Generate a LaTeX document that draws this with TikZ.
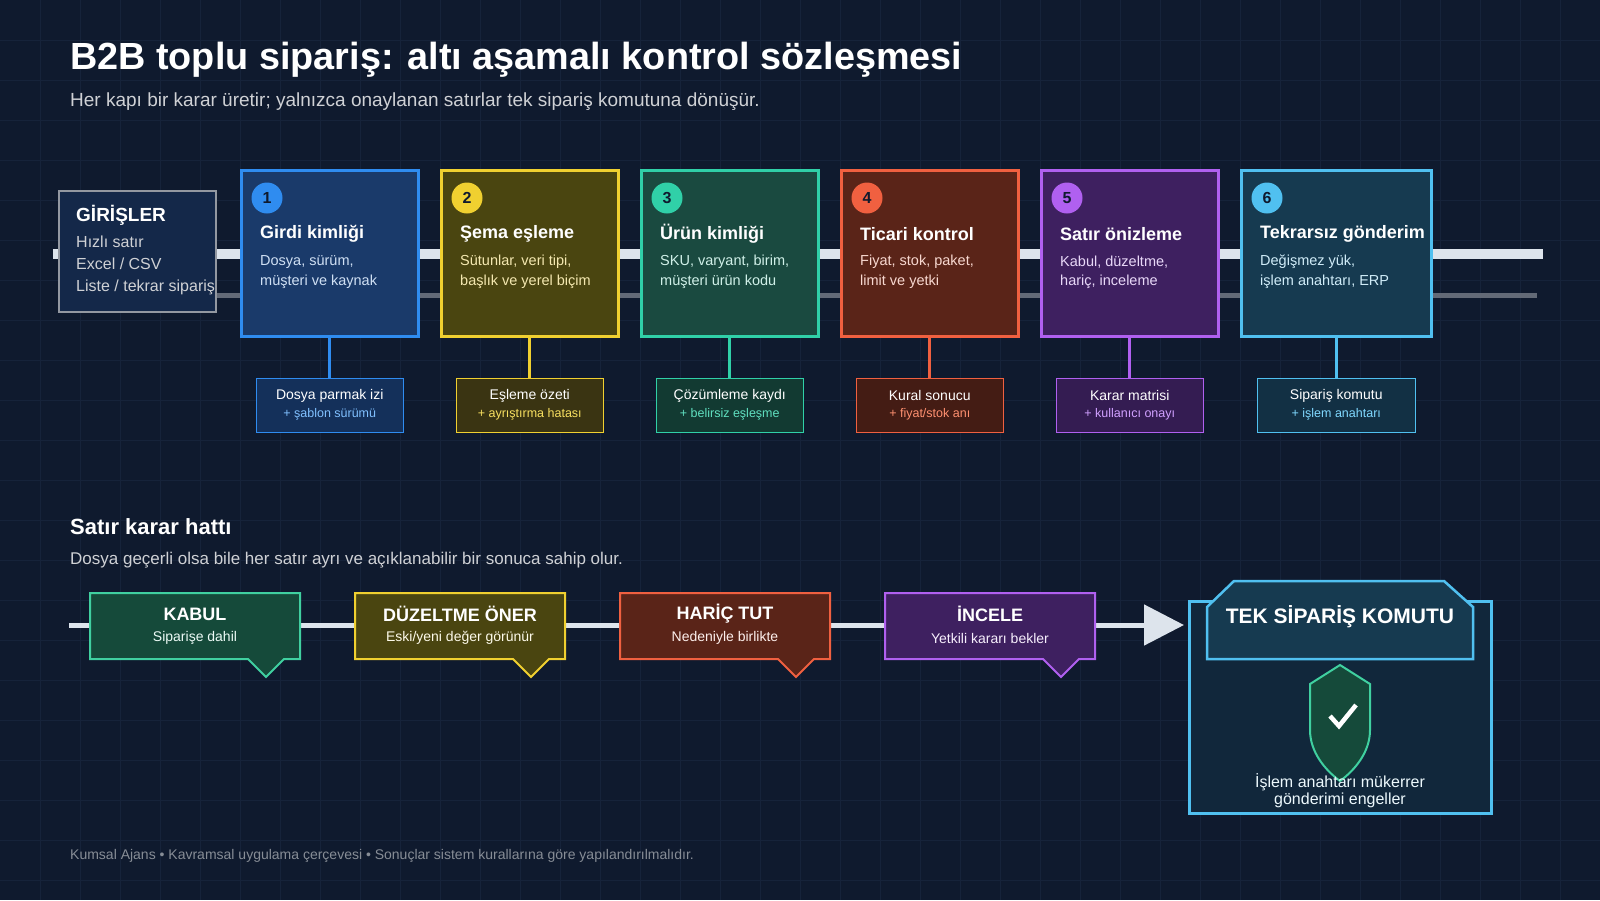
\documentclass[tikz,border=0pt]{standalone}
\usepackage{fontspec}
\setmainfont{Liberation Sans}
\usetikzlibrary{arrows.meta}
\definecolor{bg}{HTML}{0F1A2E}
\definecolor{grid}{HTML}{16233A}
\definecolor{rail}{HTML}{DDE4EC}
\definecolor{c1}{HTML}{2F8CF0}\definecolor{f1}{HTML}{1A3A6A}\definecolor{g1}{HTML}{14305A}\definecolor{t1}{HTML}{D0E0F4}\definecolor{k1}{HTML}{80C0FF}
\definecolor{c2}{HTML}{F0D030}\definecolor{f2}{HTML}{4A4510}\definecolor{g2}{HTML}{3A3412}\definecolor{t2}{HTML}{F4E8B0}\definecolor{k2}{HTML}{F8E060}
\definecolor{c3}{HTML}{30D0A8}\definecolor{f3}{HTML}{1A4A40}\definecolor{g3}{HTML}{123A32}\definecolor{t3}{HTML}{D0F0E8}\definecolor{k3}{HTML}{60E0C0}
\definecolor{c4}{HTML}{F06040}\definecolor{f4}{HTML}{5A2418}\definecolor{g4}{HTML}{441C14}\definecolor{t4}{HTML}{F8D8D0}\definecolor{k4}{HTML}{FF9070}
\definecolor{c5}{HTML}{B060F0}\definecolor{f5}{HTML}{3E2060}\definecolor{g5}{HTML}{341C52}\definecolor{t5}{HTML}{E8D8F8}\definecolor{k5}{HTML}{D0A0FF}
\definecolor{c6}{HTML}{50C0F0}\definecolor{f6}{HTML}{163A50}\definecolor{g6}{HTML}{123044}\definecolor{t6}{HTML}{D0ECF8}\definecolor{k6}{HTML}{80D8FF}
\definecolor{dg}{HTML}{154A3A}\definecolor{dgb}{HTML}{40D0A0}
\begin{document}
\begin{tikzpicture}[x=1pt,y=-1pt,
  fs/.style={font=\fontsize{#1}{#1}\selectfont},
  stage/.style={draw=#1,line width=2.5pt,minimum height=166pt,anchor=north west,inner sep=0pt},
  art/.style={draw=#1,line width=1.5pt,minimum height=54pt,anchor=north,inner sep=0pt},
  dec/.style={line width=2pt},
  txt/.style={anchor=west,inner sep=0pt,align=left}]
\fill[bg] (0,0) rectangle (1600,900);
\useasboundingbox (0,0) rectangle (1600,900);
\foreach \g in {40,80,...,1580}{\draw[grid,line width=0.6pt] (\g,0)--(\g,900);}
\foreach \g in {40,80,...,880}{\draw[grid,line width=0.6pt] (0,\g)--(1600,\g);}
% title
\node[txt,text=white,fs=37.8] (title) at (70,60) {\bfseries B2B toplu sipariş: altı aşamalı kontrol sözleşmesi};
\node[txt,text=white!80!bg,fs=19] (sub) at (70,102) {Her kapı bir karar üretir; yalnızca onaylanan satırlar tek sipariş komutuna dönüşür.};
% rails
\coordinate (r1a) at (53,254); \coordinate (r1b) at (1543,254);
\coordinate (r2a) at (215,295); \coordinate (r2b) at (1537,295);
\draw[rail,line width=10pt] (r1a)--(r1b);
\draw[white!35!bg,line width=5pt] (r2a)--(r2b);
% inputs
\node[draw=white!55!bg,fill=f1!45!bg,line width=2pt,minimum width=157pt,minimum height=121pt,anchor=north west] (inp) at (58,190) {};
\node[txt,text=white,fs=19] (inpt) at (76,215) {\bfseries GİRİŞLER};
\node[txt,text=white!80!bg,font=\fontsize{16}{22}\selectfont,anchor=north west] (inpb) at (76,236) {Hızlı satır\\Excel / CSV\\Liste / tekrar sipariş};
% stages
\foreach \i/\w/\aw/\ti/\la/\lb/\aa/\ab in {
 1/177/147/Girdi kimliği/{Dosya, sürüm,}/{müşteri ve kaynak}/{Dosya parmak izi}/{+ şablon sürümü},
 2/177/147/Şema eşleme/{Sütunlar, veri tipi,}/{başlık ve yerel biçim}/{Eşleme özeti}/{+ ayrıştırma hatası},
 3/177/147/Ürün kimliği/{SKU, varyant, birim,}/{müşteri ürün kodu}/{Çözümleme kaydı}/{+ belirsiz eşleşme},
 4/177/147/Ticari kontrol/{Fiyat, stok, paket,}/{limit ve yetki}/{Kural sonucu}/{+ fiyat/stok anı},
 5/177/147/Satır önizleme/{Kabul, düzeltme,}/{hariç, inceleme}/{Karar matrisi}/{+ kullanıcı onayı},
 6/190/158/Tekrarsız gönderim/{Değişmez yük,}/{işlem anahtarı, ERP}/{Sipariş komutu}/{+ işlem anahtarı}}{
 \pgfmathsetmacro\xx{40+200*\i}
 \node[stage=c\i,fill=f\i,minimum width=\w pt] (s\i) at (\xx,169) {};
 \node[circle,fill=c\i,minimum size=31pt,inner sep=0pt,text=bg,fs=16] (n\i) at (\xx+27,198) {\bfseries\i};
 \node[txt,text=white,fs=18] (st\i) at (\xx+20,234) {\bfseries\ti};
 \node[txt,text=t\i,fs=14.5] (sa\i) at (\xx+20,262) {\la};
 \node[txt,text=t\i,fs=14.5] (sb\i) at (\xx+20,282) {\lb};
 \node[art=c\i,fill=g\i,minimum width=\aw pt] (d\i) at ([yshift=-40pt]s\i.south) {};
 \draw[c\i,line width=3pt] (s\i.south)--(d\i.north);
 \node[text=white,fs=14,inner sep=0pt] (da\i) at ([yshift=-18pt]d\i.north) {\aa};
 \node[text=k\i,fs=12.5,inner sep=0pt] (db\i) at ([yshift=-37pt]d\i.north) {\ab};
}
% section 2
\node[txt,text=white,fs=22] (sec) at (70,527) {\bfseries Satır karar hattı};
\node[txt,text=white!80!bg,fs=17] (secs) at (70,560) {Dosya geçerli olsa bile her satır ayrı ve açıklanabilir bir sonuca sahip olur.};
\coordinate (la) at (69,625);
\coordinate (lb) at (1184,625);
\draw[rail,line width=5pt,-{Triangle[length=40pt,width=40pt]}] (la)--(lb);
\foreach \i/\fc/\bc/\ti/\su in {1/dg/dgb/KABUL/Siparişe dahil,2/f2/c2/DÜZELTME ÖNER/Eski\slash yeni değer görünür,3/f4/c4/HARİÇ TUT/Nedeniyle birlikte,4/f5/c5/İNCELE/Yetkili kararı bekler}{
 \pgfmathsetmacro\xx{90+265*(\i-1)}
 \draw[dec,draw=\bc,fill=\fc,line join=miter] (\xx,593)--(\xx+210,593)--(\xx+210,659)--(\xx+194,659)--(\xx+176,677)--(\xx+158,659)--(\xx,659)--cycle;
 \node[text=white,fs=18,inner sep=0pt] (k\i) at (\xx+105,614) {\bfseries\ti};
 \node[text=white!90!\bc,fs=14,inner sep=0pt] (ks\i) at (\xx+105,638) {\su};
}
% final box
\node[draw=c6,line width=2.5pt,fill=g6!60!bg,minimum width=302pt,minimum height=212pt,anchor=north west] (fin) at (1188,600) {};
\draw[c6,line width=2.5pt,fill=f6] (1207,659)--(1207,607)--(1234,581)--(1444,581)--(1473,607)--(1473,659)--cycle;
\node[text=white,fs=21,inner sep=0pt] (fint) at (1340,617) {\bfseries TEK SİPARİŞ KOMUTU};
\draw[dgb,line width=2pt,fill=dg] (1340,665)--(1370,684)--(1370,730) .. controls (1370,752) and (1355,770) .. (1340,781) .. controls (1325,770) and (1310,752) .. (1310,730)--(1310,684)--cycle;
\draw[white,line width=4.5pt] (1330,716)--(1339,726)--(1356,705);
\node[text=white!90!c6,fs=16,align=center,inner sep=0pt] (fins) at (1340,791) {İşlem anahtarı mükerrer\\[1pt]gönderimi engeller};
% footer
\node[txt,text=white!50!bg,fs=14] (foot) at (70,856) {Kumsal Ajans • Kavramsal uygulama çerçevesi • Sonuçlar sistem kurallarına göre yapılandırılmalıdır.};
\end{tikzpicture}
\end{document}
